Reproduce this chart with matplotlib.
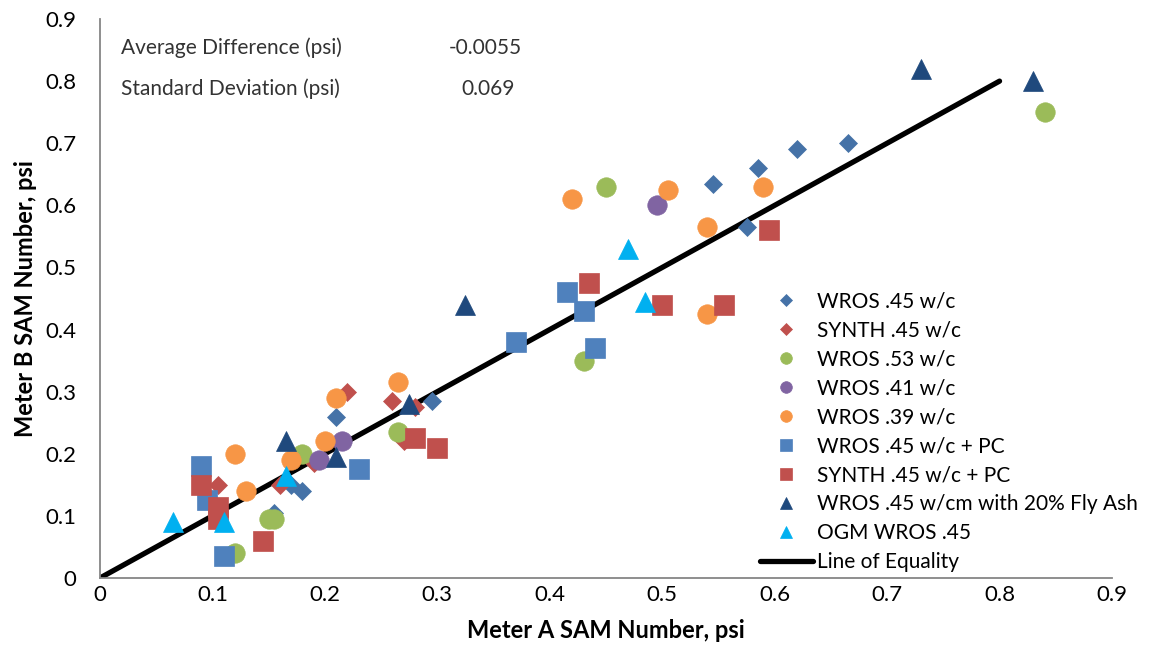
import matplotlib

matplotlib.use("Agg")
import matplotlib.pyplot as plt

plt.rcParams["font.family"] = ["Lato", "DejaVu Sans"]

# Series: (Meter A, Meter B), psi
wros45_x = [0.21, 0.295, 0.17, 0.18, 0.155, 0.545, 0.575, 0.585, 0.62, 0.665]
wros45_y = [0.26, 0.285, 0.15, 0.14, 0.105, 0.635, 0.565, 0.66, 0.69, 0.70]

synth45_x = [0.22, 0.26, 0.28, 0.27, 0.19, 0.16, 0.105]
synth45_y = [0.30, 0.285, 0.275, 0.22, 0.185, 0.15, 0.15]

wros53_x = [0.265, 0.18, 0.15, 0.155, 0.12, 0.43, 0.45, 0.84]
wros53_y = [0.235, 0.20, 0.095, 0.095, 0.04, 0.35, 0.63, 0.75]

wros41_x = [0.215, 0.195, 0.495]
wros41_y = [0.22, 0.19, 0.60]

wros39_x = [0.265, 0.21, 0.20, 0.17, 0.12, 0.13, 0.42, 0.505, 0.54, 0.54, 0.59]
wros39_y = [0.315, 0.29, 0.22, 0.19, 0.20, 0.14, 0.61, 0.625, 0.565, 0.425, 0.63]

wros45pc_x = [0.09, 0.095, 0.11, 0.23, 0.37, 0.415, 0.43, 0.44]
wros45pc_y = [0.18, 0.125, 0.035, 0.175, 0.38, 0.46, 0.43, 0.37]

synth45pc_x = [0.09, 0.105, 0.105, 0.145, 0.28, 0.30, 0.435, 0.50, 0.555, 0.595]
synth45pc_y = [0.15, 0.115, 0.095, 0.06, 0.225, 0.21, 0.475, 0.44, 0.44, 0.56]

flyash_x = [0.165, 0.21, 0.275, 0.325, 0.73, 0.83]
flyash_y = [0.22, 0.195, 0.28, 0.44, 0.82, 0.80]

ogm_x = [0.065, 0.11, 0.165, 0.47, 0.485]
ogm_y = [0.09, 0.09, 0.165, 0.53, 0.445]

equality_x = [0.0, 0.8]
equality_y = [0.0, 0.8]

series = [
    ("WROS .45 w/c", wros45_x, wros45_y, "D", "#4572A7", 9.5),
    ("SYNTH .45 w/c", synth45_x, synth45_y, "D", "#C0504D", 9.5),
    ("WROS .53 w/c", wros53_x, wros53_y, "o", "#9BBB59", 14),
    ("WROS .41 w/c", wros41_x, wros41_y, "o", "#8064A2", 14),
    ("WROS .39 w/c", wros39_x, wros39_y, "o", "#F79646", 14),
    ("WROS .45 w/c + PC", wros45pc_x, wros45pc_y, "s", "#4F81BD", 14),
    ("SYNTH .45 w/c + PC", synth45pc_x, synth45pc_y, "s", "#C0504D", 14),
    ("WROS .45 w/cm with 20% Fly Ash", flyash_x, flyash_y, "^", "#1F497D", 14),
    ("OGM WROS .45", ogm_x, ogm_y, "^", "#00B0F0", 14),
]

fig = plt.figure(figsize=(11.51, 6.52), dpi=100)
ax = fig.add_axes([100 / 1151, 1 - 578 / 652, 1012 / 1151, 559 / 652])

for label, xs, ys, mk, col, ms in series:
    ax.plot(xs, ys, linestyle="none", marker=mk, markersize=ms,
            markerfacecolor=col, markeredgecolor=col, markeredgewidth=0.5,
            label=label, zorder=3)

ax.plot(equality_x, equality_y, color="black", lw=3.8,
        solid_capstyle="round", label="Line of Equality", zorder=2)

ax.set_xlim(0, 0.9)
ax.set_ylim(0, 0.9)
ticks = [0, 0.1, 0.2, 0.3, 0.4, 0.5, 0.6, 0.7, 0.8, 0.9]
tick_labels = ["0", "0.1", "0.2", "0.3", "0.4", "0.5", "0.6", "0.7", "0.8", "0.9"]
ax.set_xticks(ticks, tick_labels)
ax.set_yticks(ticks, tick_labels)
ax.tick_params(axis="both", length=0, labelsize=16, colors="black")
ax.tick_params(axis="y", pad=17)
ax.tick_params(axis="x", pad=5)

for side in ("top", "right"):
    ax.spines[side].set_visible(False)
for side in ("left", "bottom"):
    ax.spines[side].set_color("#868686")
    ax.spines[side].set_linewidth(1.3)

ax.set_xlabel("Meter A SAM Number, psi", fontsize=17, fontweight="bold",
              labelpad=10)
ax.set_ylabel("Meter B SAM Number, psi", fontsize=17, fontweight="bold",
              labelpad=6)

txt = "#333333"
fig.text(121 / 1151, 1 - 48 / 652, "Average Difference (psi)", fontsize=15,
         color=txt, va="center", ha="left")
fig.text(449 / 1151, 1 - 48 / 652, "-0.0055", fontsize=15, color=txt,
         va="center", ha="left")
fig.text(121 / 1151, 1 - 89 / 652, "Standard Deviation (psi)", fontsize=15,
         color=txt, va="center", ha="left")
fig.text(461 / 1151, 1 - 89 / 652, "0.069", fontsize=15, color=txt,
         va="center", ha="left")

ax.legend(loc="upper left", bbox_to_anchor=(750 / 1151, 1 - 281 / 652),
          bbox_transform=fig.transFigure, frameon=False, fontsize=15,
          markerscale=0.6, handlelength=2.5, handletextpad=0.2,
          labelspacing=0.43, borderpad=0)

fig.savefig("out.png", dpi=100, facecolor="white")
